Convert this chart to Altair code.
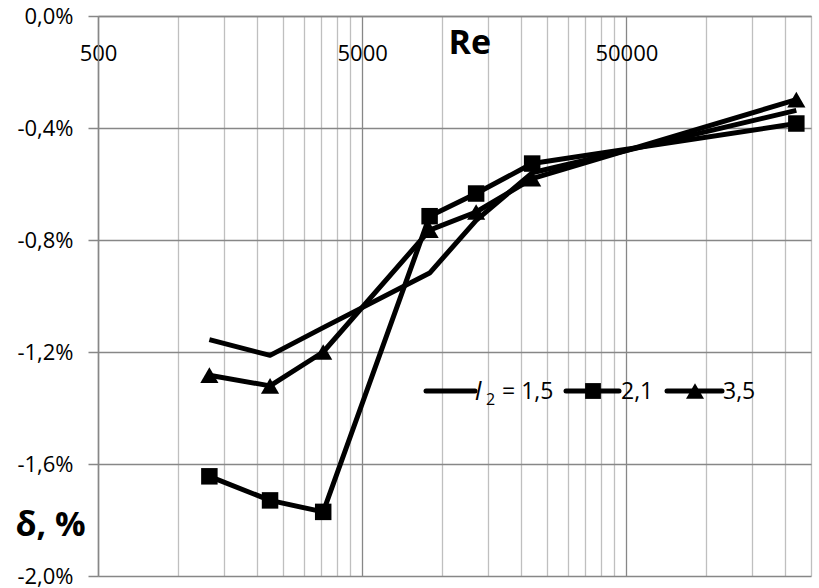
import altair as alt
import pandas as pd

# Reynolds numbers and relative error delta (%) for three l2 values
re_values = [1320, 2240, 3560, 9000, 13500, 22000, 220000]
delta_l15 = [-1.156, -1.212, -1.113, -0.918, -0.730, -0.560, -0.337]
delta_l21 = [-1.644, -1.730, -1.771, -0.715, -0.634, -0.527, -0.384]
delta_l35 = [-1.283, -1.321, -1.200, -0.765, -0.700, -0.581, -0.299]
series_names = ["1,5", "2,1", "3,5"]

# axis ticks / gridlines
x_grid = [500, 1000, 1500, 2000, 2500, 3000, 3500, 4000, 4500,
          5000, 10000, 15000, 20000, 25000, 30000, 35000, 40000, 45000,
          50000, 100000, 150000, 200000, 250000]
x_labels = [500, 5000, 50000]
y_ticks = [-2.0, -1.6, -1.2, -0.8, -0.4, 0.0]

FONT = "Open Sans"
MAJOR = "#878787"
MINOR = "#bfbfbf"
LW = 5

rows = []
for name, vals in zip(series_names, [delta_l15, delta_l21, delta_l35]):
    for i, (r, d) in enumerate(zip(re_values, vals)):
        rows.append({"Re": r, "delta": d, "series": name, "idx": i})
df = pd.DataFrame(rows)

major_test = " || ".join(f"datum.value == {v}" for v in x_labels)

x_enc = alt.X(
    "Re:Q",
    scale=alt.Scale(type="log", domain=[500, 250000], nice=False, zero=False),
    axis=alt.Axis(
        orient="top", values=x_grid,
        labelExpr=f"({major_test}) ? format(datum.value, 'd') : ''",
        ticks=False, tickSize=0, labelPadding=-37, labelBaseline="middle",
        labelFont=FONT, labelFontSize=22, labelColor="black",
        labelFlush=False, labelOverlap=False, labelBound=False,
        domain=True, domainColor=MAJOR, domainWidth=1.5,
        grid=True, gridWidth=1.3,
        gridColor={"condition": {"test": major_test, "value": MAJOR}, "value": MINOR},
        title="Re", titleFont=FONT, titleFontSize=34, titleFontWeight="bold",
        titleColor="black", titleAngle=0, titleX=350, titleY=37,
        titleAlign="left", titleBaseline="alphabetic",
    ),
)

y_enc = alt.Y(
    "delta:Q",
    scale=alt.Scale(domain=[-2.0, 0.0], nice=False, zero=False),
    axis=alt.Axis(
        values=y_ticks,
        labelExpr="(datum.value < 0 ? '-' : '') + replace(format(abs(datum.value), '.1f'), '.', ',') + '%'",
        tickSize=10, tickColor=MAJOR, tickWidth=1.5, labelPadding=15,
        labelFont=FONT, labelFontSize=22, labelColor="black",
        labelFlush=False, labelOverlap=False, labelBound=False,
        domain=True, domainColor=MAJOR, domainWidth=1.5,
        grid=True, gridColor=MAJOR, gridWidth=1.5,
        title="δ, %", titleFont=FONT, titleFontSize=34, titleFontWeight="bold",
        titleColor="black", titleAngle=0, titleX=-83, titleY=519,
        titleAlign="left", titleBaseline="alphabetic",
    ),
)

base = alt.Chart(df)

lines = base.mark_line(color="black", strokeWidth=LW, strokeJoin="round").encode(
    x=x_enc, y=y_enc, detail="series:N", order="idx:Q"
)

points = base.transform_filter(alt.datum.series != "1,5").mark_point(
    filled=True, color="black", opacity=1
).encode(
    x="Re:Q", y="delta:Q",
    shape=alt.Shape("series:N", scale=alt.Scale(domain=["2,1", "3,5"],
                                                range=["square", "triangle-up"]), legend=None),
    size=alt.Size("series:N", scale=alt.Scale(domain=["2,1", "3,5"], range=[272, 330]), legend=None),
)

# hand-built legend (pixel positions inside the plot area)
leg_lines = pd.DataFrame({"x1": [328, 468, 569], "x2": [377, 521, 624], "y": [375, 375, 375]})
leg_marks = pd.DataFrame({"x": [495, 597], "y": [375, 375], "shape": ["square", "triangle-up"],
                          "size": [250, 324]})
leg_text = pd.DataFrame({"x": [404, 523, 625], "y": [376, 376, 376],
                         "t": ["= " + series_names[0], series_names[1], series_names[2]]})

legend_lines = alt.Chart(leg_lines).mark_rule(color="black", strokeWidth=LW, strokeCap="round").encode(
    x=alt.X("x1:Q", scale=None), x2="x2:Q", y=alt.Y("y:Q", scale=None)
)
legend_marks = alt.Chart(leg_marks).mark_point(filled=True, color="black", opacity=1).encode(
    x=alt.X("x:Q", scale=None), y=alt.Y("y:Q", scale=None),
    shape=alt.Shape("shape:N", scale=None), size=alt.Size("size:Q", scale=None),
)
legend_text = alt.Chart(leg_text).mark_text(
    align="left", baseline="middle", font=FONT, fontSize=23, color="black"
).encode(x=alt.X("x:Q", scale=None), y=alt.Y("y:Q", scale=None), text="t:N")
legend_l = alt.Chart(pd.DataFrame({"x": [377], "y": [376], "t": ["l"]})).mark_text(
    align="left", baseline="middle", font=FONT, fontSize=25, fontStyle="italic", color="black"
).encode(x=alt.X("x:Q", scale=None), y=alt.Y("y:Q", scale=None), text="t:N")
legend_sub = alt.Chart(pd.DataFrame({"x": [388], "y": [384], "t": ["2"]})).mark_text(
    align="left", baseline="middle", font=FONT, fontSize=16, color="black"
).encode(x=alt.X("x:Q", scale=None), y=alt.Y("y:Q", scale=None), text="t:N")

chart = alt.layer(
    lines, points, legend_lines, legend_marks, legend_text, legend_l, legend_sub
).properties(
    width=713, height=560,
    padding={"left": 98, "top": 16, "right": 8, "bottom": 12},
    autosize=alt.AutoSizeParams(type="none"),
    background="white",
).configure_view(stroke=None)

chart.save("out.html", embed_options={"renderer": "svg", "actions": False})
